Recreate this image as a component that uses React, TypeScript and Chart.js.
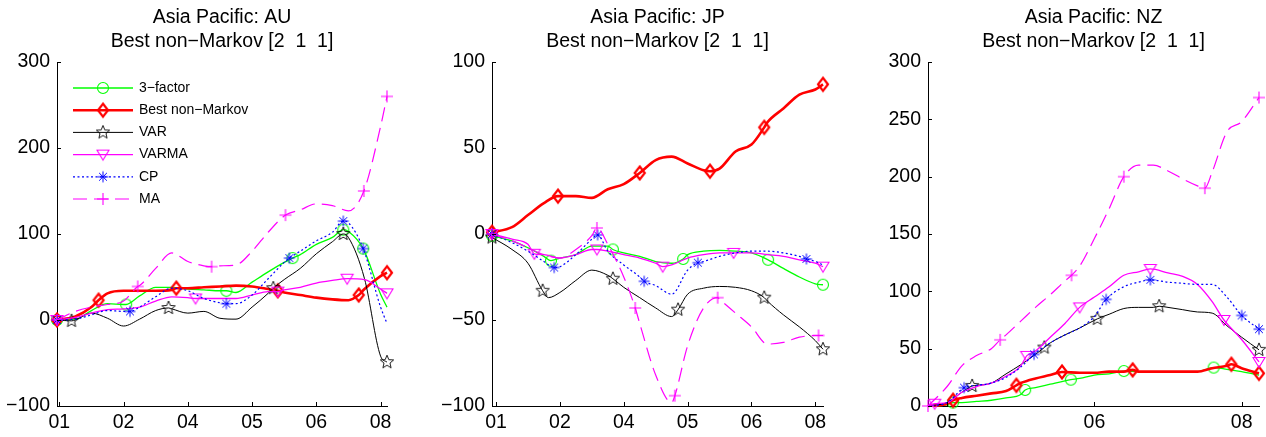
import React, { useEffect, useRef } from 'react';
import { Chart, registerables } from 'chart.js';

Chart.register(...registerables);

const FONT = '"Liberation Sans", Arial, Helvetica, sans-serif';

// ---------- Series names ----------
const seriesLabels = ['3−factor', 'Best non−Markov', 'VAR', 'VARMA', 'CP', 'MA'];

// ---------- AU ----------
const auTitle = ['Asia Pacific: AU', 'Best non−Markov [2  1  1]'];
const auXTickLabels = ['01', '02', '04', '05', '06', '08'];
const auYTicks = [-100, 0, 100, 200, 300];
const auGrid = [-0.036, 0.25, 0.5, 0.75, 1, 1.25, 1.5, 1.75, 2, 2.25, 2.5, 2.75, 3, 3.25, 3.5, 3.75, 4, 4.25, 4.5, 4.75, 5, 5.1];
const au3Factor = [0, 1, 11, 19, 18, 28, 38, 38, 36, 35, 34, 32, 44, 56, 67, 76, 88, 96, 103, 82, 30, 15];
const auBestNM = [0, 4, 15, 31, 34, 34, 34, 35, 37, 38, 39, 40, 39, 36, 32, 29, 26, 24, 23, 36, 51, 55];
const auVAR = [0, 0, 8, 2, -7, 1, 11, 13, 8, 10, 2, 1, 15, 31, 47, 60, 77, 91, 96, 48, -42, -49];
const auVARMA = [0, 3, 8, 12, 13, 15, 22, 27, 26, 25, 25, 25, 29, 33, 35, 38, 43, 46, 48, 47, 36, 31];
const auCP = [0, 1, 6, 11, 10, 15, 27, 37, 34, 25, 20, 19, 29, 48, 67, 80, 92, 102, 113, 80, 15, -4];
const auMA = [0, 10, 15, 18, 22, 40, 60, 78, 68, 63, 63, 64, 80, 102, 120, 128, 135, 133, 127, 150, 225, 260];
const auMk3Factor = [[-0.036, 0], [1.04, 18], [2.6, 34], [3.63, 72], [4.42, 105], [4.73, 83]];
const auMkBestNM = [[-0.036, 0], [0.61, 23], [1.82, 37], [3.4, 34], [4.66, 29], [5.1, 55]];
const auMkVAR = [[0.19, -1], [1.7, 14], [3.33, 37], [4.42, 100], [5.1, -49]];
const auMkVARMA = [[-0.036, 0], [2.12, 25], [3.4, 33], [4.48, 48], [5.1, 31]];
const auMkCP = [[-0.036, 0], [1.1, 10], [2.6, 19], [3.58, 72], [4.42, 115], [4.73, 83]];
const auMkMA = [[-0.036, 0], [1.22, 39], [2.37, 62], [3.52, 122], [4.74, 150], [5.1, 260]];

// ---------- JP ----------
const jpTitle = ['Asia Pacific: JP', 'Best non−Markov [2  1  1]'];
const jpXTickLabels = ['01', '02', '04', '05', '06', '08'];
const jpYTicks = [-100, -50, 0, 50, 100];
const jpGrid = [-0.063, 0.25, 0.5, 0.75, 1, 1.25, 1.5, 1.75, 2, 2.25, 2.5, 2.75, 3, 3.25, 3.5, 3.75, 4, 4.25, 4.5, 4.75, 5, 5.12];
const jp3Factor = [-1, -4, -8, -13, -14, -12, -7, -7, -11, -13, -16, -17, -12, -10, -9.5, -10, -11, -14.5, -20, -25, -29, -29.5];
const jpBestNM = [1, 4, 11, 18, 22, 22, 21, 26, 29, 35, 43, 45, 41, 37, 38, 48, 52, 65, 73, 81, 84, 87];
const jpVAR = [-2, -9, -17, -33, -34, -27, -21, -24, -31, -37, -43, -48, -35, -31.5, -30.5, -31, -33, -39, -47, -54, -62, -67];
const jpVARMA = [0, -3, -6, -12, -14, -12, -9, -10, -12, -14, -17, -18, -14, -12, -11, -11, -11, -12, -13, -15, -17, -19];
const jpCP = [0, -5, -10, -16, -19, -12, -3, -10, -18, -25, -30, -35, -21, -16, -13, -11, -10, -10, -11, -13, -16, -18];
const jpMA = [0, -4, -8, -12, -14, -9, -1, -6, -25, -52, -82, -98, -65, -43, -38, -46, -54, -64, -63, -60, -59, -59];
const jpMk3Factor = [[-0.063, -1], [0.86, -15.5], [1.83, -9], [2.93, -14.5], [4.26, -15], [5.12, -29.5]];
const jpMkBestNM = [[-0.063, 1], [0.97, 22], [2.25, 35.5], [3.35, 36.5], [4.2, 62], [5.12, 87]];
const jpMkVAR = [[-0.063, -2], [0.73, -33], [0.82, -37], [1.83, -26], [2.85, -44], [4.2, -37], [5.12, -67]];
const jpMkVARMA = [[-0.063, 0], [0.6, -11.5], [1.58, -9], [2.61, -19], [3.72, -11], [5.12, -19]];
const jpMkCP = [[-0.063, 0], [0.91, -19.5], [1.59, -0.5], [2.32, -27.5], [3.16, -16.7], [4.86, -14.5]];
const jpMkMA = [[-0.063, 0], [1.58, 3.5], [2.18, -43], [2.8, -94], [3.47, -37], [5.05, -59]];

// ---------- NZ ----------
const nzTitle = ['Asia Pacific: NZ', 'Best non−Markov [2  1  1]'];
const nzXTickLabels = ['05', '06', '08'];
const nzYTicks = [0, 50, 100, 150, 200, 250, 300];
const nzGrid = [-0.13, 0, 0.1, 0.2, 0.3, 0.4, 0.5, 0.6, 0.7, 0.8, 0.9, 1, 1.1, 1.2, 1.3, 1.4, 1.5, 1.6, 1.7, 1.8, 1.9, 2, 2.118];
const nz3Factor = [0, 1, 3, 4, 5, 7, 10, 16, 19, 22, 24, 27, 28, 30, 30, 30, 30, 30, 30, 33, 32, 30, 27];
const nzBestNM = [0, 2, 7, 9, 11, 13, 20, 24, 27, 29, 29, 29, 30, 30, 30, 30, 30, 30, 30, 33, 35, 33, 28.5];
const nzVAR = [0, 3, 12, 18, 20, 28, 36, 45, 55, 62, 68, 74, 80, 85, 86, 86, 86, 84, 82, 81, 70, 60, 49];
const nzVARMA = [0, 3, 12, 17, 20, 26, 35, 48, 60, 72, 85, 95, 104, 114, 117, 119, 116, 113, 106, 91, 72, 58, 38];
const nzCP = [0, 3, 15, 18, 20, 25, 34, 46, 55, 62, 68, 78, 95, 104, 108, 109, 108, 107, 106, 106, 95, 79, 68];
const nzMA = [0, 17, 35, 44, 50, 62, 74, 86, 97, 109, 122, 146, 172, 200, 210, 210, 205, 198, 192, 204, 239, 248, 269];
const nzMk3Factor = [[0.04, 3], [0.53, 14], [0.84, 23], [1.2, 30.5], [1.81, 33.5]];
const nzMkBestNM = [[0.04, 5], [0.47, 18], [0.78, 29.7], [1.26, 31.5], [1.93, 36.4], [2.118, 28.5]];
const nzMkVAR = [[0.17, 17.5], [0.66, 51], [1.02, 76], [1.44, 87], [2.118, 49]];
const nzMkVARMA = [[-0.085, 2], [0.54, 43.7], [0.9, 86], [1.38, 119.5], [1.88, 75], [2.118, 38.4]];
const nzMkCP = [[0.115, 16], [0.59, 45], [1.08, 93], [1.38, 110], [2.0, 79], [2.118, 67]];
const nzMkMA = [[-0.13, 0], [0.36, 57.7], [0.845, 114], [1.2, 200], [1.75, 190], [2.118, 269]];

// markers that only shape the curve (drawn without a symbol)
const hiddenMarks: Record<string, boolean> = { '0.82,-37': true };

// ---------- styles ----------
type Style = { color: string; width: number; dash: number[]; marker: string };
const STYLES: Style[] = [
  { color: '#00ff00', width: 1.3, dash: [], marker: 'circle' },
  { color: '#ff0000', width: 2.6, dash: [], marker: 'diamond' },
  { color: '#000000', width: 1, dash: [], marker: 'pentagram' },
  { color: '#ff00ff', width: 1.3, dash: [], marker: 'triangleDown' },
  { color: '#0000ff', width: 1.2, dash: [2, 2.5], marker: 'asterisk' },
  { color: '#ff00ff', width: 1.2, dash: [14, 7], marker: 'plus' },
];

const markerCache: Record<string, HTMLCanvasElement> = {};
function makeMarker(kind: string, color: string): HTMLCanvasElement {
  const key = kind + color;
  if (markerCache[key]) return markerCache[key];
  const c = document.createElement('canvas');
  c.width = 20;
  c.height = 20;
  const g = c.getContext('2d')!;
  g.strokeStyle = color;
  g.translate(10, 10);
  g.beginPath();
  if (kind === 'circle') {
    g.lineWidth = 1.1;
    g.arc(0, 0, 5.5, 0, Math.PI * 2);
  } else if (kind === 'diamond') {
    g.lineWidth = 2.2;
    g.moveTo(0, -6.5);
    g.lineTo(5, 0);
    g.lineTo(0, 6.5);
    g.lineTo(-5, 0);
    g.closePath();
  } else if (kind === 'pentagram') {
    g.lineWidth = 0.9;
    for (let i = 0; i < 10; i++) {
      const r = i % 2 === 0 ? 7 : 3.1;
      const a = -Math.PI / 2 + (i * Math.PI) / 5;
      const px = r * Math.cos(a);
      const py = r * Math.sin(a);
      if (i === 0) g.moveTo(px, py);
      else g.lineTo(px, py);
    }
    g.closePath();
  } else if (kind === 'triangleDown') {
    g.lineWidth = 1.1;
    g.moveTo(-6, -4.5);
    g.lineTo(6, -4.5);
    g.lineTo(0, 5.5);
    g.closePath();
  } else if (kind === 'asterisk') {
    g.lineWidth = 1;
    const r = 5.5;
    const d = r * 0.707;
    g.moveTo(0, -r);
    g.lineTo(0, r);
    g.moveTo(-r, 0);
    g.lineTo(r, 0);
    g.moveTo(-d, -d);
    g.lineTo(d, d);
    g.moveTo(-d, d);
    g.lineTo(d, -d);
  } else if (kind === 'plus') {
    g.lineWidth = 1.1;
    g.moveTo(0, -6);
    g.lineTo(0, 6);
    g.moveTo(-6, 0);
    g.lineTo(6, 0);
  }
  g.stroke();
  markerCache[key] = c;
  return c;
}

function buildLine(grid: number[], ys: number[], marks: number[][]) {
  const pts = grid
    .map((x, i) => ({ x, y: ys[i], m: false }))
    .filter((p) => !marks.some(([mx]) => Math.abs(mx - p.x) < 0.021));
  marks.forEach(([x, y]) => pts.push({ x, y, m: !hiddenMarks[x + ',' + y] }));
  pts.sort((a, b) => a.x - b.x);
  return pts;
}

type PanelCfg = {
  left: number;
  width: number;
  yWidth: number;
  padRight: number;
  xMin: number;
  xMax: number;
  xTickLabels: string[];
  yMin: number;
  yMax: number;
  yTicks: number[];
  title: string[];
  grid: number[];
  values: number[][];
  marks: number[][][];
  legend: boolean;
};

const PANELS: PanelCfg[] = [
  {
    left: 0, width: 420, yWidth: 57, padRight: 33, xMin: -0.036, xMax: 5.1,
    xTickLabels: auXTickLabels, yMin: -100, yMax: 300, yTicks: auYTicks, title: auTitle,
    grid: auGrid, values: [au3Factor, auBestNM, auVAR, auVARMA, auCP, auMA],
    marks: [auMk3Factor, auMkBestNM, auMkVAR, auMkVARMA, auMkCP, auMkMA], legend: true,
  },
  {
    left: 420, width: 420, yWidth: 72, padRight: 17, xMin: -0.063, xMax: 5.12,
    xTickLabels: jpXTickLabels, yMin: -100, yMax: 100, yTicks: jpYTicks, title: jpTitle,
    grid: jpGrid, values: [jp3Factor, jpBestNM, jpVAR, jpVARMA, jpCP, jpMA],
    marks: [jpMk3Factor, jpMkBestNM, jpMkVAR, jpMkVARMA, jpMkCP, jpMkMA], legend: false,
  },
  {
    left: 840, width: 426, yWidth: 88, padRight: 7, xMin: -0.13, xMax: 2.118,
    xTickLabels: nzXTickLabels, yMin: 0, yMax: 300, yTicks: nzYTicks, title: nzTitle,
    grid: nzGrid, values: [nz3Factor, nzBestNM, nzVAR, nzVARMA, nzCP, nzMA],
    marks: [nzMk3Factor, nzMkBestNM, nzMkVAR, nzMkVARMA, nzMkCP, nzMkMA], legend: false,
  },
];

function fmtY(v: number) {
  return v < 0 ? '−' + Math.abs(v) : String(v);
}

function makeTitlePlugin(lines: string[]) {
  return {
    id: 'mtitle',
    afterDraw(chart: any) {
      const { ctx, chartArea } = chart;
      const cx = (chartArea.left + chartArea.right) / 2;
      ctx.save();
      ctx.fillStyle = '#000';
      ctx.font = '19.5px ' + FONT;
      ctx.textAlign = 'center';
      ctx.textBaseline = 'alphabetic';
      ctx.fillText(lines[0], cx, 23);
      ctx.fillText(lines[1], cx, 47);
      ctx.restore();
    },
  };
}

const tickMarkPlugin = {
  id: 'inticks',
  afterDraw(chart: any) {
    const { ctx, chartArea: a } = chart;
    const x = chart.scales.x;
    const y = chart.scales.y;
    ctx.save();
    ctx.strokeStyle = '#000';
    ctx.lineWidth = 1;
    ctx.beginPath();
    x.ticks.forEach((t: any) => {
      const px = Math.round(x.getPixelForValue(t.value)) + 0.5;
      ctx.moveTo(px, a.bottom);
      ctx.lineTo(px, a.bottom - 4);
    });
    y.ticks.forEach((t: any) => {
      const py = Math.round(y.getPixelForValue(t.value)) + 0.5;
      ctx.moveTo(a.left, py);
      ctx.lineTo(a.left + 4, py);
    });
    ctx.stroke();
    ctx.restore();
  },
};

const legendPlugin = {
  id: 'mlegend',
  afterDraw(chart: any) {
    const ctx = chart.ctx;
    STYLES.forEach((s, i) => {
      const y = 88 + i * 22.2;
      ctx.save();
      ctx.strokeStyle = s.color;
      ctx.lineWidth = s.width;
      ctx.setLineDash(s.dash);
      ctx.beginPath();
      ctx.moveTo(73, y);
      ctx.lineTo(133, y);
      ctx.stroke();
      ctx.setLineDash([]);
      const img = makeMarker(s.marker, s.color);
      ctx.drawImage(img, 103 - img.width / 2, y - img.height / 2);
      ctx.fillStyle = '#000';
      ctx.font = '14px ' + FONT;
      ctx.textBaseline = 'middle';
      ctx.textAlign = 'left';
      ctx.fillText(seriesLabels[i], 139, y);
      ctx.restore();
    });
  },
};

function buildConfig(cfg: PanelCfg): any {
  const datasets = STYLES.map((s, i) => ({
    label: seriesLabels[i],
    data: buildLine(cfg.grid, cfg.values[i], cfg.marks[i]),
    borderColor: s.color,
    borderWidth: s.width,
    borderDash: s.dash,
    fill: false,
    pointStyle: makeMarker(s.marker, s.color),
    pointRadius: (c: any) => (c.raw && c.raw.m ? 6 : 0),
    pointHoverRadius: (c: any) => (c.raw && c.raw.m ? 6 : 0),
    pointBorderWidth: 0,
    pointBackgroundColor: 'rgba(0,0,0,0)',
    cubicInterpolationMode: 'monotone',
    clip: false,
    order: 5 - i,
  }));
  const xTickPos = cfg.xTickLabels.map((_, i) => i);
  const tickFont = { family: FONT, size: 19.5 };
  const plugins: any[] = [makeTitlePlugin(cfg.title), tickMarkPlugin];
  if (cfg.legend) plugins.push(legendPlugin);
  return {
    type: 'line',
    data: { datasets },
    plugins,
    options: {
      responsive: false,
      animation: false,
      devicePixelRatio: 1,
      events: [],
      layout: { padding: { left: 0, top: 62, right: cfg.padRight, bottom: 0 } },
      plugins: {
        legend: { display: false },
        tooltip: { enabled: false },
        title: { display: false },
      },
      scales: {
        x: {
          type: 'linear',
          min: cfg.xMin,
          max: cfg.xMax,
          grid: { display: false, drawTicks: false },
          border: { display: true, color: '#000', width: 1 },
          afterBuildTicks: (s: any) => {
            s.ticks = xTickPos.map((v) => ({ value: v }));
          },
          afterFit: (s: any) => {
            s.height = 31;
          },
          ticks: {
            autoSkip: false,
            maxRotation: 0,
            minRotation: 0,
            padding: 5,
            color: '#000',
            font: tickFont,
            callback: (_v: any, idx: number) => cfg.xTickLabels[idx],
          },
        },
        y: {
          type: 'linear',
          min: cfg.yMin,
          max: cfg.yMax,
          grid: { display: false, drawTicks: false },
          border: { display: true, color: '#000', width: 1 },
          afterBuildTicks: (s: any) => {
            s.ticks = cfg.yTicks.map((v) => ({ value: v }));
          },
          afterFit: (s: any) => {
            s.width = cfg.yWidth;
          },
          ticks: {
            padding: 7,
            color: '#000',
            font: tickFont,
            callback: (v: any) => fmtY(Number(v)),
          },
        },
      },
    },
  };
}

function Panel({ cfg }: { cfg: PanelCfg }) {
  const ref = useRef<HTMLCanvasElement>(null);
  useEffect(() => {
    if (!ref.current) return;
    const chart = new Chart(ref.current, buildConfig(cfg));
    return () => chart.destroy();
  }, [cfg]);
  return (
    <canvas
      ref={ref}
      width={cfg.width}
      height={437}
      style={{ position: 'absolute', left: cfg.left, top: 0, width: cfg.width, height: 437 }}
    />
  );
}

export default function App() {
  return (
    <div
      style={{
        position: 'fixed',
        left: 0,
        top: 0,
        width: 1266,
        height: 437,
        background: '#ffffff',
        overflow: 'hidden',
      }}
    >
      {PANELS.map((p, i) => (
        <Panel key={i} cfg={p} />
      ))}
    </div>
  );
}
